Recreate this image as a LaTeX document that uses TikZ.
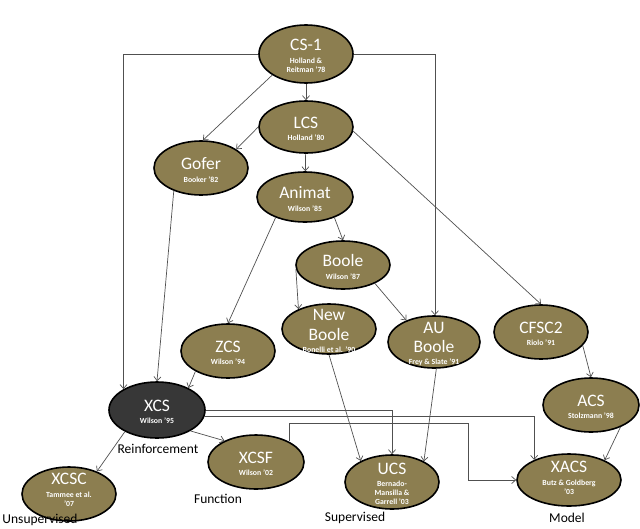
\documentclass[tikz,border=0pt]{standalone}
\usepackage{fontspec}
\setmainfont{Carlito}
\usetikzlibrary{arrows.meta, shapes.geometric}
\definecolor{olivefill}{RGB}{140,126,80}
\definecolor{darkfill}{RGB}{55,55,55}
\definecolor{edgegray}{RGB}{80,80,80}
\newcommand{\ttlfont}{\mdseries\fontsize{17.5}{20}\selectfont}
\newcommand{\subfont}{\bfseries\fontsize{7.8}{9}\selectfont}

\begin{document}
\begin{tikzpicture}[x = 1pt, y = -1pt,
                        cls/.style = {ellipse, draw, line width = 1.6pt, fill = olivefill, minimum width = 94pt, minimum height = 54pt, inner sep = 0pt},
                        hub/.style = {cls, fill = darkfill},
                        lbl/.style = {text = white, align = center, font = \subfont, inner sep = 0pt, yshift = -2pt},
                        catlabel/.style = {font = \fontsize{13.5}{16}\selectfont, inner sep = 0pt},
                        link/.style = {draw = edgegray, line width = 0.7pt, -{Straight Barb[length = 4pt, width = 7pt]}}]
      \useasboundingbox (0, 0) rectangle (640, 528);

      \node [cls, minimum height = 58pt] (cs1) at (306, 54){};
      \node [cls, minimum height = 52pt] (lcs) at (306, 127){};
      \node [cls] (gofer) at (201, 168){};
      \node [cls, minimum width = 96pt, minimum height = 50pt] (animat) at (305, 197){};
      \node [cls, minimum height = 48pt] (boole) at (343, 265){};
      \node [cls, minimum height = 50pt] (newboole) at (329, 329){};
      \node [cls, minimum width = 92pt, minimum height = 52pt] (auboole) at (434, 342){};
      \node [cls] (cfsc2) at (541, 332){};
      \node [cls, minimum width = 96pt] (acs) at (591, 405){};
      \node [cls] (zcs) at (228, 351){};
      \node [hub, minimum width = 96pt, minimum height = 56pt] (xcs) at (157, 410){};
      \node [cls, minimum width = 96pt] (xcsf) at (256, 462){};
      \node [cls] (xcsc) at (69, 494){};
      \node [cls] (ucs) at (392, 482){};
      \node [cls, minimum width = 104pt, minimum height = 52pt] (xacs) at (569, 480){};

      \node [lbl] (cs1-t) at (cs1) {{\ttlfont CS-1}\\[3.5pt]Holland \&\\Reitman '78};
      \node [lbl] (lcs-t) at (lcs) {{\ttlfont LCS}\\[3.5pt]Holland '80};
      \node [lbl] (gofer-t) at (gofer) {{\ttlfont Gofer}\\[3.5pt]Booker '82};
      \node [lbl] (animat-t) at (animat) {{\ttlfont Animat}\\[3.5pt]Wilson '85};
      \node [lbl] (boole-t) at (boole) {{\ttlfont Boole}\\[3.5pt]Wilson '87};
      \node [lbl] (newboole-t) at (newboole) {{\ttlfont New}\\[6.5pt]{\ttlfont Boole}\\[3pt]Bonelli et al. '90};
      \node [lbl] (auboole-t) at (auboole) {{\ttlfont AU}\\[6.5pt]{\ttlfont Boole}\\[3pt]Frey \& Slate '91};
      \node [lbl] (cfsc2-t) at (cfsc2) {{\ttlfont CFSC2}\\[3.5pt]Riolo '91};
      \node [lbl] (acs-t) at (acs) {{\ttlfont ACS}\\[3.5pt]Stolzmann '98};
      \node [lbl] (zcs-t) at (zcs) {{\ttlfont ZCS}\\[3.5pt]Wilson '94};
      \node [lbl] (xcs-t) at (xcs) {{\ttlfont XCS}\\[3.5pt]Wilson '95};
      \node [lbl] (xcsf-t) at (xcsf) {{\ttlfont XCSF}\\[3.5pt]Wilson '02};
      \node [lbl, yshift = 6pt] (xcsc-t) at (xcsc) {{\ttlfont XCSC}\\[3.5pt]Tammee et al.\\'07};
      \node [lbl] (ucs-t) at (ucs) {{\ttlfont UCS}\\[3pt]Bernado-\\Mansilla \&\\Garrell '03};
      \node [lbl, yshift = 4pt] (xacs-t) at (xacs) {{\ttlfont XACS}\\[3.5pt]Butz \& Goldberg\\'03};

      \draw [link] (cs1) -- (lcs);
      \draw [link] (cs1.212) -- (gofer.86);
      \draw [link] (cs1.west) -| (xcs.148);
      \draw [link] (cs1.east) -| (auboole.88);
      \draw [link] (lcs.west) -- (gofer.28);
      \draw [link] (lcs) -- (animat);
      \draw [link] (lcs.-5) -- (cfsc2.north);
      \draw [link] (gofer.220) -- (xcs.north);
      \draw [link] (animat.-35) -- (boole.north);
      \draw [link] (animat.215) -- (zcs.north);
      \draw [link] (boole.185) -- (newboole.147);
      \draw [link] (boole.-30) -- (auboole.142);
      \draw [link] (zcs.212) -- (xcs.35);
      \draw [link] (cfsc2.-18) -- (acs.north);
      \draw [link] (newboole.south) -- (ucs.146);
      \draw [link] (auboole.-85) -- (ucs.33);
      \draw [link] (xcs.214) -- (xcsc.39);
      \draw [link] (xcs.-32) -- (xcsf.146);
      \draw [link] (xcs.east) -| (ucs.north);
      \draw [link] (xcs.-8) -| (xacs.150);
      \coordinate (bend) at (468, 423);
      \draw [link] (xcsf.32) |- (bend) |- (xacs.west);
      \draw [link] (acs.-37) -- (xacs.29);

      \node [catlabel] (reinf) at (158, 449) {Reinforcement};
      \node [catlabel] (func) at (218, 499) {Function};
      \node [catlabel] (unsup) at (40, 520) {Unsupervised};
      \node [catlabel] (sup) at (355, 518) {Supervised};
      \node [catlabel] (model) at (567, 518) {Model};
      \end{tikzpicture}
\end{document}
